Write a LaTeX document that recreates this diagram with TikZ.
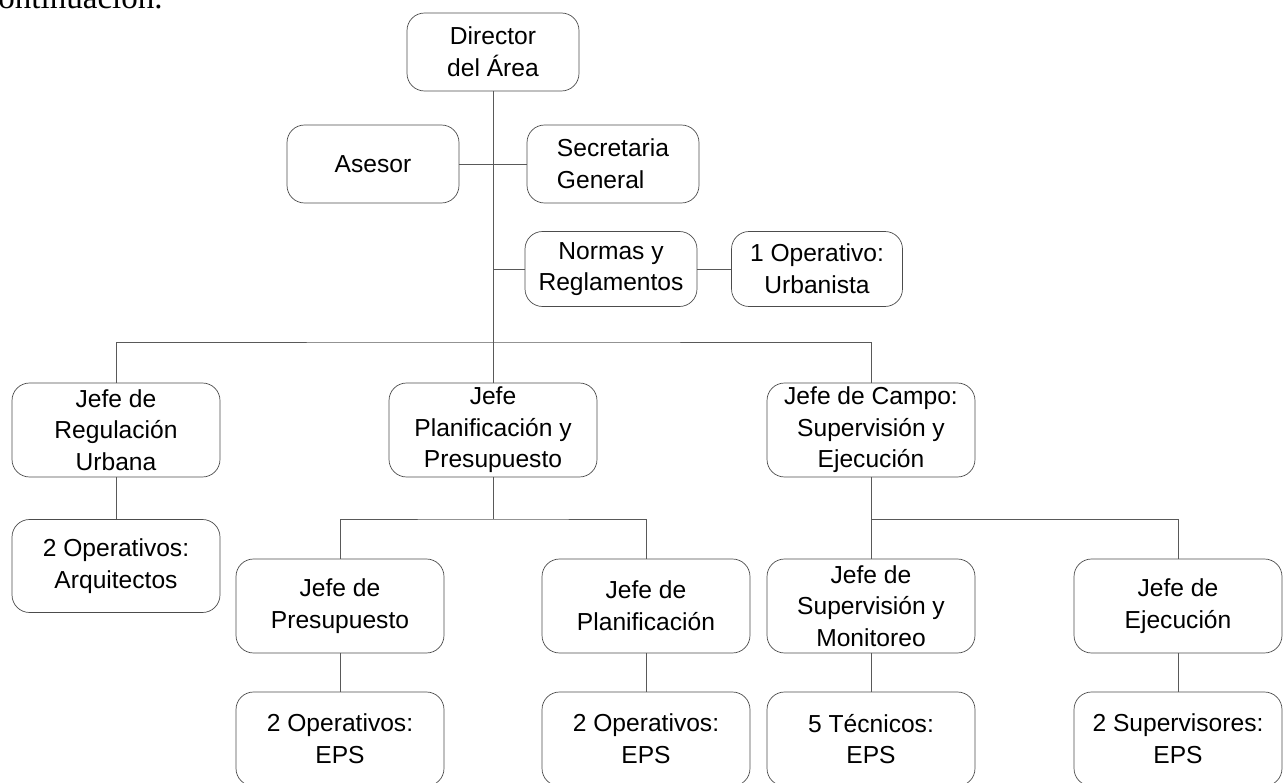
\documentclass[tikz,border=0pt]{standalone}
\usepackage{fontspec}
\setmainfont{Liberation Sans}
\newfontfamily\bodyserif{Liberation Serif}
\usepackage{tikz}

\begin{document}
\begin{tikzpicture}[x=0.02cm, y=-0.02cm,
  box/.style = {draw=black!70, rounded corners=0.35cm, align=center, inner sep=0pt,
    font=\fontsize{14}{18}\selectfont},
  small/.style = {box, minimum width=3.44cm, minimum height=1.56cm},
  wide/.style = {box, minimum width=4.16cm, minimum height=1.88cm},
  line/.style = {draw=black!65, line width=0.5pt}]
\useasboundingbox (0,0) rectangle (1287,783);
\clip (0,0) rectangle (1287,783);
\node[anchor=base east, font=\bodyserif\fontsize{18.8}{22}\selectfont, inner sep=0pt] (intro) at (163,9) {continuación.};
\node[small] (dir) at (493,52) {Director\\del Área};
\node[small] (ases) at (373,164) {Asesor};
\node[small, align=left] (secr) at (613,164) {Secretaria\\General};
\node[small, minimum height=1.5cm] (norm) at (611,269) {Normas y\\Reglamentos};
\node[small, minimum width=3.42cm, minimum height=1.5cm] (oper) at (817,269) {1 Operativo:\\Urbanista};
\node[wide] (reg) at (116,430) {Jefe de\\Regulación\\Urbana};
\node[wide] (planpres) at (493,430) {Jefe\\Planificación y\\Presupuesto};
\node[wide] (campo) at (871,430) {Jefe de Campo:\\Supervisión y\\Ejecución};
\node[wide, minimum height=1.86cm] (arq) at (116,566) {2 Operativos:\\Arquitectos};
\node[wide] (jpres) at (340,606) {Jefe de\\Presupuesto};
\node[wide] (jplan) at (646,606) {Jefe de\\Planificación};
\node[wide] (jsup) at (871,606) {Jefe de\\Supervisión y\\Monitoreo};
\node[wide] (jeje) at (1178,606) {Jefe de\\Ejecución};
\node[wide] (opp) at (340,739) {2 Operativos:\\EPS};
\node[wide] (opl) at (646,739) {2 Operativos:\\EPS};
\node[wide] (tec) at (871,739) {5 Técnicos:\\EPS};
\node[wide] (sups) at (1178,739) {2 Supervisores:\\EPS};
% joints
\coordinate (njoin) at (493,269);
\coordinate (bar) at (493,342);
\coordinate (subL) at (493,519);
\coordinate (subR) at (871,519);
\draw[line] (dir) -- (planpres);
\draw[line] (ases) -- (secr);
\draw[line] (njoin) -- (norm);
\draw[line] (norm) -- (oper);
\draw[line] (reg) |- (bar) -| (campo);
\draw[line] (reg) -- (arq);
\draw[line] (planpres) -- (subL);
\draw[line] (jpres) |- (subL) -| (jplan);
\draw[line] (campo) -- (jsup);
\draw[line] (subR) -| (jeje);
\draw[line] (jpres) -- (opp);
\draw[line] (jplan) -- (opl);
\draw[line] (jsup) -- (tec);
\draw[line] (jeje) -- (sups);
\end{tikzpicture}
\end{document}
